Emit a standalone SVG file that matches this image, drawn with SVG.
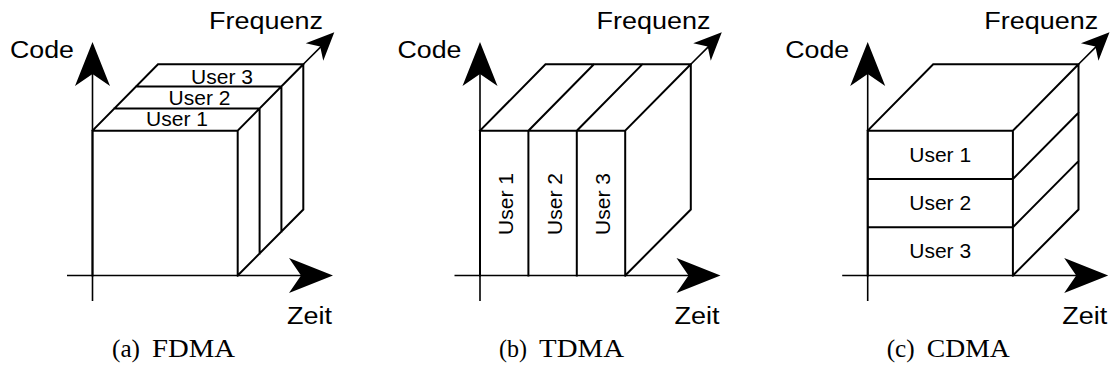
<svg xmlns="http://www.w3.org/2000/svg" xmlns:xlink="http://www.w3.org/1999/xlink" width="1111" height="371" viewBox="0 0 1111 371">
<style>
.box{fill:none;stroke:#000;stroke-width:2;stroke-linejoin:miter;stroke-linecap:square}
.ax{fill:none;stroke:#000;stroke-width:1.6}
.ah{fill:#000;stroke:none}
.lab{font-family:"Liberation Sans",Arial,sans-serif;font-size:23px;fill:#000}
.usr{font-family:"Liberation Sans",Arial,sans-serif;font-size:21px;fill:#000}
.cap{font-family:"Liberation Serif","Times New Roman",serif;font-size:25px;fill:#000}
</style>
<defs>
<path id="ahBig" d="M0,0 L-44,-17.5 L-32,0 L-44,17.5 Z"/>
<path id="ahSmall" d="M0,0 L-28,-12.4 L-20,0 L-28,12.4 Z"/>
<g id="axes">
<path class="ax" d="M92.5,301 V70 M67,275.5 H305 M303.3,64.3 L322,45.6"/>
<use xlink:href="#ahBig" class="ah" transform="translate(92.5,42) rotate(-90)"/>
<use xlink:href="#ahBig" class="ah" transform="translate(333,275.5)"/>
<use xlink:href="#ahSmall" class="ah" transform="translate(334.3,32.3) rotate(-45)"/>
<text class="lab" x="10" y="58" textLength="64" lengthAdjust="spacingAndGlyphs">Code</text>
<text class="lab" x="209" y="29" textLength="114" lengthAdjust="spacingAndGlyphs">Frequenz</text>
<text class="lab" x="287" y="324" textLength="45" lengthAdjust="spacingAndGlyphs">Zeit</text>
</g>
</defs>

<g id="panel-fdma">
<use xlink:href="#axes"/>
<g id="fdma-cube">
<path class="box" d="M92.5,275.5 V130.7 H237.7 V275.5 M92.5,130.7 L158,64.3 H303.3 V209.5 L237.7,275.5 M237.7,130.7 L303.3,64.3 M114.4,108.6 H259.6 V253.6 M136.2,86.4 H281.4 V231.6"/>
</g>
<text class="usr" x="177" y="126" text-anchor="middle">User 1</text>
<text class="usr" x="199.5" y="105" text-anchor="middle">User 2</text>
<text class="usr" x="222" y="83.5" text-anchor="middle">User 3</text>
<text class="cap" x="112" y="357" textLength="28" lengthAdjust="spacingAndGlyphs">(a)</text>
<text class="cap" x="152" y="357" textLength="83" lengthAdjust="spacingAndGlyphs">FDMA</text>
</g>

<g id="panel-tdma" transform="translate(387.5,0)">
<use xlink:href="#axes"/>
<g id="tdma-cube">
<path class="box" d="M92.5,275.5 V130.7 H237.7 V275.5 M92.5,130.7 L158,64.3 H303.3 V209.5 L237.7,275.5 M237.7,130.7 L303.3,64.3 M140.9,275.5 V130.7 L206.4,64.3 M189.3,275.5 V130.7 L254.8,64.3"/>
</g>
<text class="usr" transform="translate(125.5,204) rotate(-90)" text-anchor="middle">User 1</text>
<text class="usr" transform="translate(174,204) rotate(-90)" text-anchor="middle">User 2</text>
<text class="usr" transform="translate(222.5,204) rotate(-90)" text-anchor="middle">User 3</text>
<text class="cap" x="111.5" y="357" textLength="28" lengthAdjust="spacingAndGlyphs">(b)</text>
<text class="cap" x="151.5" y="357" textLength="85" lengthAdjust="spacingAndGlyphs">TDMA</text>
</g>

<g id="panel-cdma" transform="translate(775.2,0)">
<use xlink:href="#axes"/>
<g id="cdma-cube">
<path class="box" d="M92.5,275.5 V130.7 H237.7 V275.5 M92.5,130.7 L158,64.3 H303.3 V209.5 L237.7,275.5 M237.7,130.7 L303.3,64.3 M92.5,179 H237.7 L303.3,112.7 M92.5,227.2 H237.7 L303.3,161.1"/>
</g>
<text class="usr" x="165" y="162" text-anchor="middle">User 1</text>
<text class="usr" x="165" y="210" text-anchor="middle">User 2</text>
<text class="usr" x="165" y="258" text-anchor="middle">User 3</text>
<text class="cap" x="111.5" y="357" textLength="28" lengthAdjust="spacingAndGlyphs">(c)</text>
<text class="cap" x="151.5" y="357" textLength="83" lengthAdjust="spacingAndGlyphs">CDMA</text>
</g>
</svg>
